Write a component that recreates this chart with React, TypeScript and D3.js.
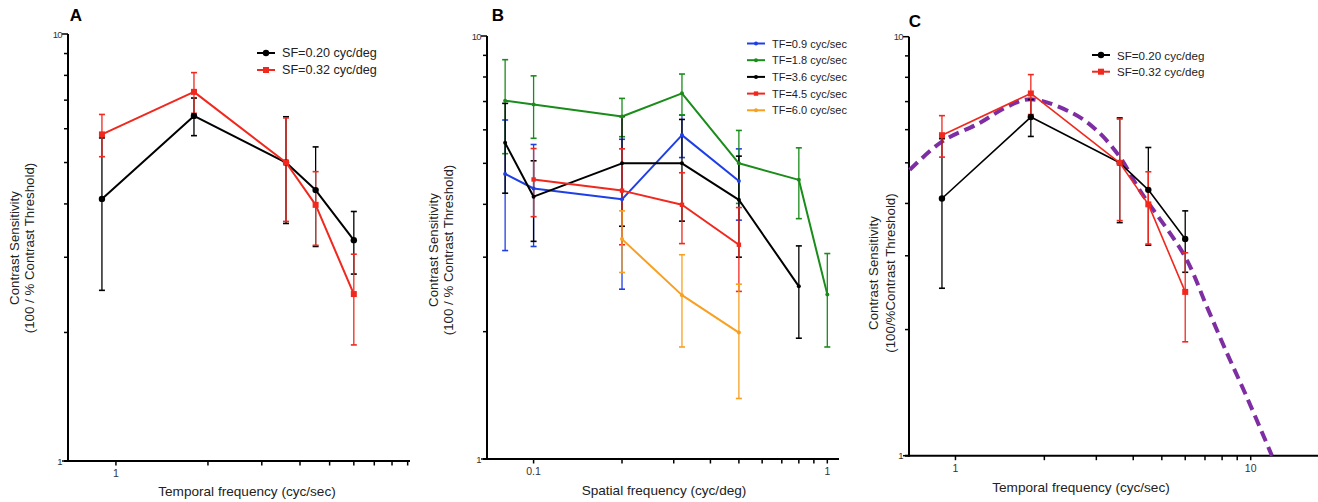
import React from 'react';
import * as d3 from 'd3';

// Panels A and C: temporal frequency (cyc/sec) on x
const tfValues = [0.9, 1.8, 3.6, 4.5, 6.0];
const sf020Mean = [4.11, 6.43, 5.0, 4.31, 3.29];
const sf020Err = [1.6, 0.65, 1.4, 1.13, 0.55];
const sf032Mean = [5.82, 7.32, 5.0, 3.98, 2.46];
const sf032Err = [0.66, 0.8, 1.36, 0.78, 0.59];

// Panel B: spatial frequency (cyc/deg) on x
const sfValues = [0.08, 0.1, 0.2, 0.32, 0.5, 0.8, 1.0];
const tf09Mean = [4.72, 4.36, 4.11, 5.83, 4.54, null, null];
const tf09Err = [1.61, 1.18, 1.59, 0.67, 0.87, null, null];
const tf18Mean = [7.03, 6.89, 6.45, 7.32, 5.0, 4.57, 2.45];
const tf18Err = [1.76, 1.16, 0.67, 0.81, 0.98, 0.87, 0.61];
const tf36Mean = [5.59, 4.17, 5.0, 5.0, 4.1, 2.56, null];
const tf36Err = [1.34, 0.9, 1.45, 1.35, 1.1, 0.63, null];
const tf45Mean = [null, 4.58, 4.31, 3.99, 3.21, null, null];
const tf45Err = [null, 0.84, 1.1, 0.76, 0.72, null, null];
const tf60Mean = [null, null, 3.31, 2.44, 1.99, null, null];
const tf60Err = [null, null, 0.55, 0.6, 0.6, null, null];

// Panel C: fitted curve
const fitTF = [0.7, 0.9, 1.2, 1.5, 1.8, 2.5, 3.0, 3.6, 4.2, 6.0, 7.1, 8.3, 9.7, 11.8];
const fitCS = [4.81, 5.62, 6.21, 6.81, 7.09, 6.56, 5.99, 5.17, 4.31, 2.98, 2.27, 1.76, 1.38, 1.0];

// ticks
const yTicks = [1, 2, 3, 4, 5, 6, 7, 8, 9, 10];
const yTickLabels = [1, 10];
const xTicksA = [1, 2, 3, 4, 5, 6, 7, 8, 9];
const xTickLabelsA = [1];
const xTicksB = [0.1, 0.2, 0.3, 0.4, 0.5, 0.6, 0.7, 0.8, 0.9, 1];
const xTickLabelsB = [0.1, 1];
const xTicksC = [1, 2, 3, 4, 5, 6, 7, 8, 9, 10];
const xTickLabelsC = [1, 10];

const FONT = '"Liberation Sans", Arial, Helvetica, sans-serif';

type Series = {
  name: string;
  color: string;
  xs: number[];
  mean: (number | null)[];
  err: (number | null)[];
  marker: 'circle' | 'square' | 'dot' | 'smallsquare';
};

const seriesA: Series[] = [
  { name: 'SF=0.20 cyc/deg', color: '#000000', xs: tfValues, mean: sf020Mean, err: sf020Err, marker: 'circle' },
  { name: 'SF=0.32 cyc/deg', color: '#f0281e', xs: tfValues, mean: sf032Mean, err: sf032Err, marker: 'square' },
];

const seriesB: Series[] = [
  { name: 'TF=0.9 cyc/sec', color: '#1f3fe6', xs: sfValues, mean: tf09Mean, err: tf09Err, marker: 'dot' },
  { name: 'TF=1.8 cyc/sec', color: '#1a8c1a', xs: sfValues, mean: tf18Mean, err: tf18Err, marker: 'dot' },
  { name: 'TF=3.6 cyc/sec', color: '#000000', xs: sfValues, mean: tf36Mean, err: tf36Err, marker: 'dot' },
  { name: 'TF=4.5 cyc/sec', color: '#f0281e', xs: sfValues, mean: tf45Mean, err: tf45Err, marker: 'smallsquare' },
  { name: 'TF=6.0 cyc/sec', color: '#f7a021', xs: sfValues, mean: tf60Mean, err: tf60Err, marker: 'dot' },
];

type PanelCfg = {
  letter: string;
  letterX: number;
  letterY: number;
  left: number;
  right: number;
  top: number;
  bottom: number;
  xMin: number;
  xMax: number;
  xTicks: number[];
  xTickLabels: number[];
  xTitle: string;
  xTitleX: number;
  xTitleY: number;
  yLab1: string;
  yLab2: string;
  yLabX1: number;
  yLabX2: number;
  yLabY: number;
  legendX: number;
  legendY: number;
  legendStep: number;
  legendFont: number;
  lineW: number;
};

const cfgA: PanelCfg = {
  letter: 'A', letterX: 76, letterY: 15,
  left: 68, right: 410, top: 34, bottom: 461,
  xMin: 0.697, xMax: 9.16,
  xTicks: xTicksA, xTickLabels: xTickLabelsA,
  xTitle: 'Temporal frequency (cyc/sec)', xTitleX: 247, xTitleY: 491,
  yLab1: 'Contrast Sensitivity', yLab2: '(100 / % Contrast Threshold)',
  yLabX1: 14, yLabX2: 29, yLabY: 248,
  legendX: 257, legendY: 53, legendStep: 17, legendFont: 12.6, lineW: 2,
};

const cfgB: PanelCfg = {
  letter: 'B', letterX: 498, letterY: 15,
  left: 487, right: 839, top: 36, bottom: 459,
  xMin: 0.0694, xMax: 1.096,
  xTicks: xTicksB, xTickLabels: xTickLabelsB,
  xTitle: 'Spatial frequency (cyc/deg)', xTitleX: 664, xTitleY: 490,
  yLab1: 'Contrast Sensitivity', yLab2: '(100 / % Contrast Threshold)',
  yLabX1: 433, yLabX2: 448, yLabY: 250,
  legendX: 747, legendY: 43.5, legendStep: 16.7, legendFont: 11, lineW: 2,
};

const cfgC: PanelCfg = {
  letter: 'C', letterX: 915, letterY: 21,
  left: 909, right: 1318, top: 36.7, bottom: 455.7,
  xMin: 0.696, xMax: 16.9,
  xTicks: xTicksC, xTickLabels: xTickLabelsC,
  xTitle: 'Temporal frequency (cyc/sec)', xTitleX: 1081, xTitleY: 487,
  yLab1: 'Contrast Sensitivity', yLab2: '(100/%Contrast Threshold)',
  yLabX1: 873, yLabX2: 890, yLabY: 273,
  legendX: 1092, legendY: 55, legendStep: 16.7, legendFont: 11.6, lineW: 1.6,
};

function Marker({ kind, x, y, color }: { kind: Series['marker']; x: number; y: number; color: string }) {
  if (kind === 'circle') return <circle cx={x} cy={y} r={3.2} fill={color} />;
  if (kind === 'square') return <rect x={x - 3} y={y - 3} width={6} height={6} fill={color} />;
  if (kind === 'smallsquare') return <rect x={x - 2.2} y={y - 2.2} width={4.4} height={4.4} fill={color} />;
  return <circle cx={x} cy={y} r={2} fill={color} />;
}

function Panel({ cfg, series, children }: { cfg: PanelCfg; series: Series[]; children?: any }) {
  const x = d3.scaleLog().domain([cfg.xMin, cfg.xMax]).range([cfg.left, cfg.right]);
  const y = d3.scaleLog().domain([1, 10]).range([cfg.bottom, cfg.top]);
  const line = d3
    .line<[number, number | null]>()
    .defined((d) => d[1] != null)
    .x((d) => x(d[0]))
    .y((d) => y(d[1] as number));

  return (
    <g fontFamily={FONT}>
      <text x={cfg.letterX} y={cfg.letterY} fontSize={17} fontWeight={700} textAnchor="middle" dominantBaseline="central">
        {cfg.letter}
      </text>

      {/* y axis */}
      <line x1={cfg.left} x2={cfg.left} y1={cfg.top} y2={cfg.bottom + 1} stroke="#000" strokeWidth={2} />
      {yTicks.map((t) => (
        <line key={'yt' + t} x1={cfg.left - (t === 1 || t === 10 ? 6 : 4)} x2={cfg.left} y1={y(t)} y2={y(t)} stroke="#000" strokeWidth={1.5} />
      ))}
      {yTickLabels.map((t) => (
        <text key={'yl' + t} x={cfg.left - 6} y={y(t)} fontSize={9.5} textAnchor="end" dominantBaseline="central" fill="#333" letterSpacing={-0.6}>
          {t}
        </text>
      ))}

      {/* x axis */}
      <line x1={cfg.left - 4} x2={cfg.right} y1={cfg.bottom} y2={cfg.bottom} stroke="#000" strokeWidth={2} />
      {cfg.xTicks.map((t) => (
        <line key={'xt' + t} x1={x(t)} x2={x(t)} y1={cfg.bottom} y2={cfg.bottom + 4.5} stroke="#000" strokeWidth={1.5} />
      ))}
      {cfg.xTickLabels.map((t) => (
        <text key={'xl' + t} x={x(t)} y={cfg.bottom + 12} fontSize={10.5} textAnchor="middle" dominantBaseline="central" fill="#333">
          {t}
        </text>
      ))}

      <text x={cfg.xTitleX} y={cfg.xTitleY} fontSize={13.6} textAnchor="middle" dominantBaseline="central" fill="#222">
        {cfg.xTitle}
      </text>
      <text transform={`translate(${cfg.yLabX1},${cfg.yLabY}) rotate(-90)`} fontSize={13.3} textAnchor="middle" dominantBaseline="central" fill="#222">
        {cfg.yLab1}
      </text>
      <text transform={`translate(${cfg.yLabX2},${cfg.yLabY}) rotate(-90)`} fontSize={13.3} textAnchor="middle" dominantBaseline="central" fill="#222">
        {cfg.yLab2}
      </text>

      {children ? children(x, y) : null}

      {/* error bars */}
      {series.map((s) => (
        <g key={'e' + s.name} stroke={s.color} strokeWidth={1.3}>
          {s.mean.map((m, i) => {
            const e = s.err[i];
            if (m == null || e == null) return null;
            const cx = x(s.xs[i]);
            const y1 = y(m + e);
            const y2 = y(Math.max(m - e, 1.01));
            return (
              <g key={i}>
                <line x1={cx} x2={cx} y1={y1} y2={y2} />
                <line x1={cx - 3} x2={cx + 3} y1={y1} y2={y1} strokeWidth={1.6} />
                <line x1={cx - 3} x2={cx + 3} y1={y2} y2={y2} strokeWidth={1.6} />
              </g>
            );
          })}
        </g>
      ))}

      {/* lines + markers */}
      {series.map((s) => {
        const pts = s.xs.map((v, i) => [v, s.mean[i]] as [number, number | null]);
        return (
          <g key={'l' + s.name}>
            <path d={line(pts.filter((p) => p[1] != null)) || ''} fill="none" stroke={s.color} strokeWidth={cfg.lineW} strokeLinejoin="round" />
            {pts.map((p, i) => (p[1] == null ? null : <Marker key={i} kind={s.marker} x={x(p[0])} y={y(p[1])} color={s.color} />))}
          </g>
        );
      })}

      {/* legend */}
      {series.map((s, i) => {
        const ly = cfg.legendY + i * cfg.legendStep;
        return (
          <g key={'lg' + s.name}>
            <line x1={cfg.legendX} x2={cfg.legendX + 18} y1={ly} y2={ly} stroke={s.color} strokeWidth={2} />
            <Marker kind={s.marker} x={cfg.legendX + 9} y={ly} color={s.color} />
            <text x={cfg.legendX + 25} y={ly} fontSize={cfg.legendFont} dominantBaseline="central" fill="#222">
              {s.name}
            </text>
          </g>
        );
      })}
    </g>
  );
}

export default function App() {
  const fitPts = fitTF.map((f, i) => [f, fitCS[i]] as [number, number]);
  return (
    <svg width={1318} height={502} style={{ position: 'absolute', left: 0, top: 0, background: '#fff' }}>
      <rect width={1318} height={502} fill="#fff" />
      <Panel cfg={cfgA} series={seriesA} />
      <Panel cfg={cfgB} series={seriesB} />
      <Panel cfg={cfgC} series={seriesA}>
        {(x: any, y: any) => {
          const fit = d3
            .line<[number, number]>()
            .x((d) => x(d[0]))
            .y((d) => y(d[1]))
            .curve(d3.curveCatmullRom.alpha(0.5));
          return (
            <path
              d={fit(fitPts) || ''}
              fill="none"
              stroke="#7e2da3"
              strokeWidth={4}
              strokeDasharray="11 6"
            />
          );
        }}
      </Panel>
    </svg>
  );
}
